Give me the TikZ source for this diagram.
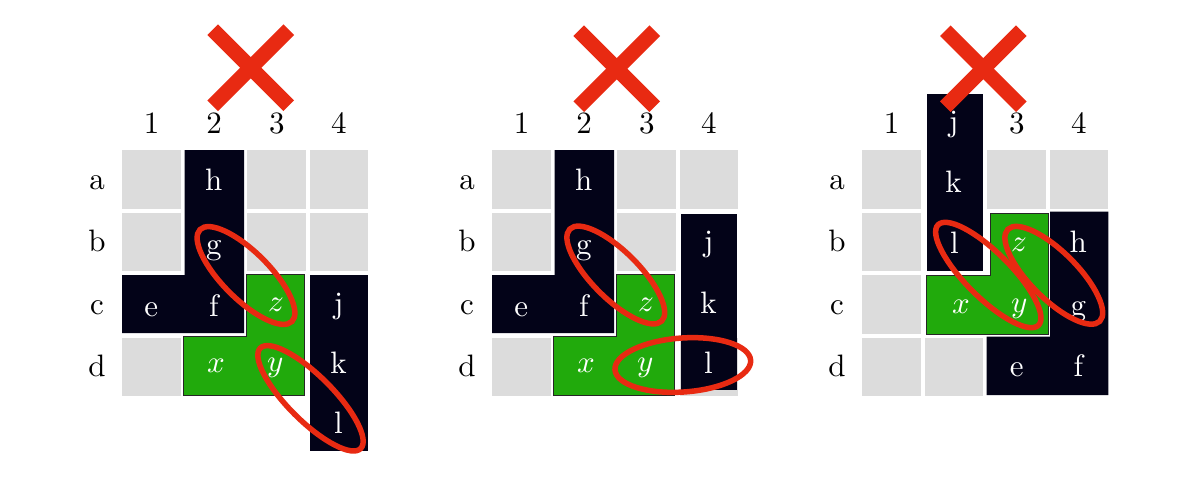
\documentclass[tikz,border=0pt]{standalone}
\usepackage{fontspec}
\usepackage{unicode-math}
\setmainfont{lmroman10-regular.otf}[ItalicFont=lmroman10-italic.otf]
\setmathfont{latinmodern-math.otf}
\definecolor{cellgray}{RGB}{220,220,220}
\definecolor{piecek}{RGB}{3,3,24}
\definecolor{pieceg}{RGB}{33,170,12}
\definecolor{markred}{RGB}{232,42,18}
\tikzset{
  gcell/.style={fill=cellgray},
  blk/.style={fill=piecek},
  grn/.style={fill=pieceg, draw=black!85, line width=0.9pt},
  ring/.style={draw=markred, line width=5.5pt},
  xmark/.style={draw=markred, line width=15pt},
  lab/.style={font=\fontsize{31}{37}\selectfont, anchor=base, inner sep=0pt},
  wlab/.style={lab, text=white}
}
\begin{document}
\begin{tikzpicture}[x=1pt,y=-1pt]
\useasboundingbox (0,0) rectangle (1200,485);
\fill[white] (0,0) rectangle (1200,485);
% ================= panel 1 =================
\begin{scope}
  \foreach \c/\r in {1/1,1/2,1/4,3/1,3/2,4/1,4/2}
    \fill[gcell] ({122+62.5*(\c-1)},{150+62.5*(\r-1)}) rectangle ++(58.5,58.5);
  \fill[blk] (184.5,150) -- (244,150) -- (244,333) -- (122,333) -- (122,275) -- (184.5,275) -- cycle;
  \draw[grn] (246,274.5) -- (304.5,274.5) -- (304.5,395) -- (183.5,395) -- (183.5,336.5) -- (246,336.5) -- cycle;
  \fill[blk] (310,275) rectangle (367.5,451);
  \node[lab] (p1c1) at (151.5,133.3) {1};
  \node[lab] (p1c2) at (214,133.3) {2};
  \node[lab] (p1c3) at (276.75,133.3) {3};
  \node[lab] (p1c4) at (338.75,133.3) {4};
  \node[lab] (p1ra) at (97,189.5) {a};
  \node[lab] (p1rb) at (97,251.7) {b};
  \node[lab] (p1rc) at (97,314.5) {c};
  \node[lab] (p1rd) at (97,376.7) {d};
  \node[wlab] (p1h) at (213.75,190.5) {h};
  \node[wlab] (p1g) at (213.75,254) {g};
  \node[wlab] (p1f) at (213.75,316) {f};
  \node[wlab] (p1e) at (151.25,316) {e};
  \node[wlab] (p1z) at (276,311.7) {$z$};
  \node[wlab] (p1x) at (216.5,372.5) {$x$};
  \node[wlab] (p1y) at (276,371.5) {$y$};
  \node[wlab] (p1j) at (338.5,313) {j};
  \node[wlab] (p1k) at (338.5,373.3) {k};
  \node[wlab] (p1l) at (338.5,433.3) {l};
  \draw[ring] (246,275.5) ellipse [x radius=65, y radius=23.5, rotate=-45];
  \draw[ring] (310.5,398.3) ellipse [x radius=71, y radius=22.5, rotate=-45];
  \coordinate (p1X) at (250.7,67.7);
  \draw[xmark] ([shift={(-38,-38)}]p1X) -- ([shift={(38,38)}]p1X);
  \draw[xmark] ([shift={(-38,38)}]p1X) -- ([shift={(38,-38)}]p1X);
\end{scope}
% ================= panel 2 =================
\begin{scope}[xshift=370pt]
  \foreach \c/\r in {1/1,1/2,1/4,3/1,3/2,4/1,4/4}
    \fill[gcell] ({122+62.5*(\c-1)},{150+62.5*(\r-1)}) rectangle ++(58.5,58.5);
  \fill[blk] (184.5,150) -- (244,150) -- (244,333) -- (122,333) -- (122,275) -- (184.5,275) -- cycle;
  \draw[grn] (246,274.5) -- (304.5,274.5) -- (304.5,395) -- (183.5,395) -- (183.5,336.5) -- (246,336.5) -- cycle;
  \fill[blk] (310.7,214) rectangle (367,390);
  \node[lab] (p2c1) at (151.5,133.3) {1};
  \node[lab] (p2c2) at (214,133.3) {2};
  \node[lab] (p2c3) at (276.75,133.3) {3};
  \node[lab] (p2c4) at (338.75,133.3) {4};
  \node[lab] (p2ra) at (97,189.5) {a};
  \node[lab] (p2rb) at (97,251.7) {b};
  \node[lab] (p2rc) at (97,314.5) {c};
  \node[lab] (p2rd) at (97,376.7) {d};
  \node[wlab] (p2h) at (213.75,190.5) {h};
  \node[wlab] (p2g) at (213.75,254) {g};
  \node[wlab] (p2f) at (213.75,316) {f};
  \node[wlab] (p2e) at (151.25,316) {e};
  \node[wlab] (p2z) at (276,311.7) {$z$};
  \node[wlab] (p2x) at (216.5,372.5) {$x$};
  \node[wlab] (p2y) at (276,371.5) {$y$};
  \node[wlab] (p2j) at (338.5,251) {j};
  \node[wlab] (p2k) at (338.5,313) {k};
  \node[wlab] (p2l) at (338.5,373.5) {l};
  \draw[ring] (245.8,275) ellipse [x radius=65, y radius=23.5, rotate=-45];
  \draw[ring] (312.8,365) ellipse [x radius=68, y radius=27, rotate=4];
  \coordinate (p2X) at (246.7,68.7);
  \draw[xmark] ([shift={(-38,-38)}]p2X) -- ([shift={(38,38)}]p2X);
  \draw[xmark] ([shift={(-38,38)}]p2X) -- ([shift={(38,-38)}]p2X);
\end{scope}
% ================= panel 3 =================
\begin{scope}[xshift=740pt]
  \foreach \c/\r in {1/1,1/2,1/3,1/4,2/4,3/1,4/1}
    \fill[gcell] ({122+62.5*(\c-1)},{150+62.5*(\r-1)}) rectangle ++(58.5,58.5);
  \fill[blk] (186.7,94) rectangle (243.3,270.5);
  \draw[grn] (250,213.3) -- (308.3,213.3) -- (308.3,334) -- (186.7,334) -- (186.7,275) -- (250,275) -- cycle;
  \fill[blk] (310,211.7) -- (368.3,211.7) -- (368.3,395) -- (246.7,395) -- (246.7,336.7) -- (310,336.7) -- cycle;
  \node[lab] (p3c1) at (151.5,133.3) {1};
  \node[lab] (p3c3) at (276.75,133.3) {3};
  \node[lab] (p3c4) at (338.75,133.3) {4};
  \node[lab] (p3ra) at (97,189.5) {a};
  \node[lab] (p3rb) at (97,251.7) {b};
  \node[lab] (p3rc) at (97,314.5) {c};
  \node[lab] (p3rd) at (97,376.7) {d};
  \node[wlab] (p3j) at (213.5,131) {j};
  \node[wlab] (p3k) at (213.5,192) {k};
  \node[wlab] (p3l) at (214.5,253) {l};
  \node[wlab] (p3z) at (279,251.7) {$z$};
  \node[wlab] (p3x) at (221.7,313.3) {$x$};
  \node[wlab] (p3y) at (280,312) {$y$};
  \node[wlab] (p3h) at (338.3,252) {h};
  \node[wlab] (p3g) at (338.3,315) {g};
  \node[wlab] (p3e) at (276.7,376.7) {e};
  \node[wlab] (p3f) at (338.3,376.7) {f};
  \draw[ring] (248.3,275) ellipse [x radius=71, y radius=22.5, rotate=-45];
  \draw[ring] (313.8,275.3) ellipse [x radius=65, y radius=23.5, rotate=-45];
  \coordinate (p3X) at (243.3,68.7);
  \draw[xmark] ([shift={(-38,-38)}]p3X) -- ([shift={(38,38)}]p3X);
  \draw[xmark] ([shift={(-38,38)}]p3X) -- ([shift={(38,-38)}]p3X);
\end{scope}
\end{tikzpicture}
\end{document}
